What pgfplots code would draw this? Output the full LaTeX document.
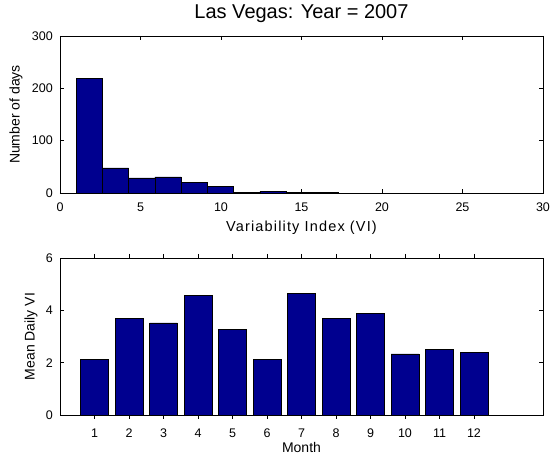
\documentclass[border=0pt]{standalone}
\usepackage{pgfplots}
\pgfplotsset{compat=1.18}
\usepackage{fontspec}
\setmainfont{Liberation Sans}
\newfontfamily\widesans[LetterSpace=8]{Liberation Sans}
\definecolor{barblue}{RGB}{0,0,143}

\pgfplotsset{
  matlabaxis/.style={
    scale only axis,
    width=483pt, height=157pt,
    axis line style={black, line width=0.6pt},
    tick align=inside,
    major tick length=4pt,
    tick style={black, line width=0.5pt},
    ticklabel style={font=\fontsize{12.5}{14}\selectfont, inner sep=0pt},
    /pgf/number format/assume math mode=true,
    xticklabel style={anchor=base, yshift=-18.5pt},
    yticklabel style={anchor=east, xshift=-7pt},
    label style={font=\fontsize{14}{16}\selectfont},
  },
}

\begin{document}
\begin{tikzpicture}
\path[use as bounding box] (0pt,0pt) rectangle (550pt,457pt);

% Histogram of daily variability index
\begin{axis}[
  matlabaxis,
  at={(60pt,264pt)}, anchor=south west,
  xmin=0, xmax=30, ymin=0, ymax=300,
  xtick={0,5,...,30}, ytick={0,100,200,300},
  xlabel={Variability Index (VI)},
  ylabel={Number of days},
  xlabel style={at={(axis description cs:0.5,0)}, anchor=base, yshift=-39pt,
                font=\widesans\fontsize{14.5}{16}\selectfont},
  ylabel style={at={(axis description cs:-0.0911,0.5)}, anchor=center},
  title={Las Vegas: Year = 2007},
  title style={at={(axis description cs:0.5,1)}, anchor=base, yshift=11pt,
               font=\fontsize{20}{22}\selectfont},
]
\addplot[ybar interval, fill=barblue, draw=black, line width=0.5pt] coordinates {
  (1.00,219) (2.63,48) (4.26,29) (5.89,31) (7.52,21) (9.15,12)
  (10.78,1) (12.41,3) (14.04,1) (15.67,1) (17.30,1)
};
\end{axis}

% Mean daily VI per month
\begin{axis}[
  matlabaxis,
  at={(60pt,42pt)}, anchor=south west,
  xmin=0, xmax=14, ymin=0, ymax=6,
  xtick={1,...,12}, ytick={0,2,4,6},
  xlabel={Month},
  ylabel={Mean Daily VI},
  xlabel style={at={(axis description cs:0.5,0)}, anchor=base, yshift=-38pt},
  ylabel style={at={(axis description cs:-0.060,0.5)}, anchor=center},
  ybar, bar width=0.8,
]
\addplot[fill=barblue, draw=black, line width=0.5pt] coordinates {
  (1,2.13) (2,3.69) (3,3.52) (4,4.58) (5,3.27) (6,2.12)
  (7,4.64) (8,3.69) (9,3.87) (10,2.34) (11,2.51) (12,2.38)
};
\end{axis}
\end{tikzpicture}
\end{document}
